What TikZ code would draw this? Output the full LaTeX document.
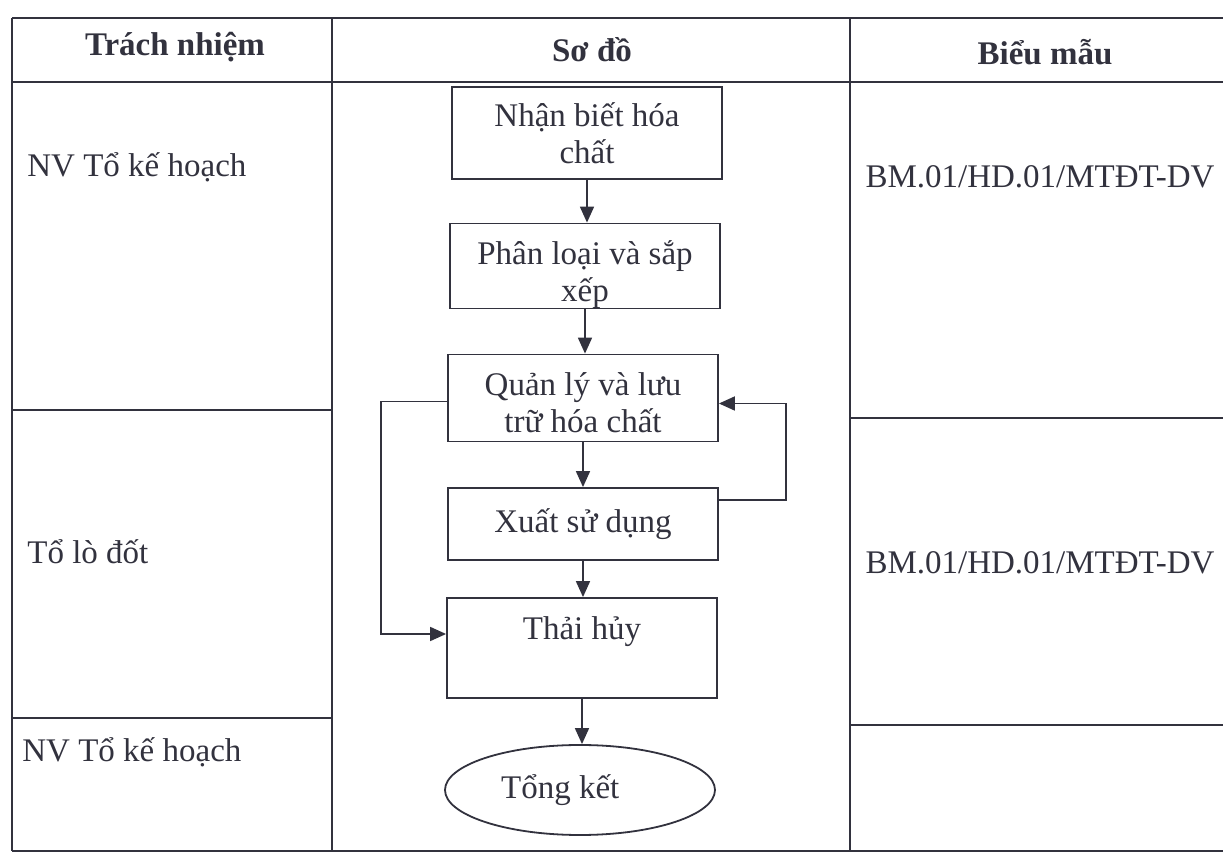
\documentclass[tikz,border=0pt]{standalone}
\usepackage{fontspec}
\setmainfont{Liberation Serif}
\usetikzlibrary{shapes,arrows.meta,positioning}
\definecolor{inkgray}{RGB}{50,50,62}

\begin{document}
\begin{tikzpicture}[
        x=0.5pt, y=-0.5pt,
        every node/.style = {font=\fontsize{16.5}{18.5}\selectfont, text=inkgray},
        grid line/.style = {draw=inkgray, line width=0.9pt},
        head/.style = {font=\fontsize{16.5}{18.5}\selectfont\bfseries},
        cell/.style = {inner sep=0pt, anchor=west},
        procbox/.style = {rectangle, draw=inkgray, line width=0.9pt, minimum width=135pt, align=center, inner sep=2pt},
        endbox/.style = {ellipse, draw=inkgray, line width=0.9pt, minimum width=135pt, minimum height=45pt, inner sep=0pt},
        flow/.style = {draw=inkgray, line width=0.9pt, -{Triangle[length=8pt,width=7pt]}}
    ]
    \useasboundingbox (0,0) rectangle (1223,855);

    % table
    \foreach \y in {18, 82, 851} \draw[grid line] (12,\y) -- (1223,\y);
    \foreach \x in {12, 332, 850} \draw[grid line] (\x,18) -- (\x,851);
    \foreach \y in {410, 718} \draw[grid line] (12,\y) -- (332,\y);
    \foreach \y in {418, 725} \draw[grid line] (850,\y) -- (1223,\y);

    % headers
    \node[head] (hresp) at (175,47) {Trách nhiệm};
    \node[head] (hflow) at (592,50) {Sơ đồ};
    \node[head] (hform) at (1045,52) {Biểu mẫu};

    % cells
    \node[cell] (resp1) at (27,167) {NV Tổ kế hoạch};
    \node[cell] (resp2) at (27,552) {Tổ lò đốt};
    \node[cell] (resp3) at (22,752) {NV Tổ kế hoạch};
    \node (form1) at (1040,177) {BM.01/HD.01/MTĐT-DV};
    \node (form2) at (1040,563) {BM.01/HD.01/MTĐT-DV};

    % flow
    \node[procbox, minimum height=46pt] (b1) at (587,133) {Nhận biết hóa\\chất};
    \node[procbox, minimum height=42.5pt, text height=36pt, text depth=-4pt] (b2) at (585,266) {Phân loại và sắp\\xếp};
    \node[procbox, minimum height=43.5pt, text height=35pt, text depth=0pt] (b3) at (583,398) {Quản lý và lưu\\trữ hóa chất};
    \node[procbox, minimum height=36pt] (b4) at (583,524) {Xuất sử dụng};
    \node[procbox, minimum height=50pt, text depth=20pt] (b5) at (582,648) {Thải hủy};
    \node[endbox] (sum) at (580,790) {Tổng kết\hspace*{1.2em}};

    \foreach \a/\b in {b1/b2, b2/b3, b3/b4, b4/b5, b5/sum}
        \draw[flow] (\a.south) -- (\a.south |- \b.north);

    \draw[flow] ([yshift=12pt]b4.east) -- ++(67,0) |- ([yshift=-2.75pt]b3.east);
    \draw[flow] ([yshift=-1.75pt]b3.west) -- ++(-66,0) |- ([yshift=7pt]b5.west);
\end{tikzpicture}
\end{document}
